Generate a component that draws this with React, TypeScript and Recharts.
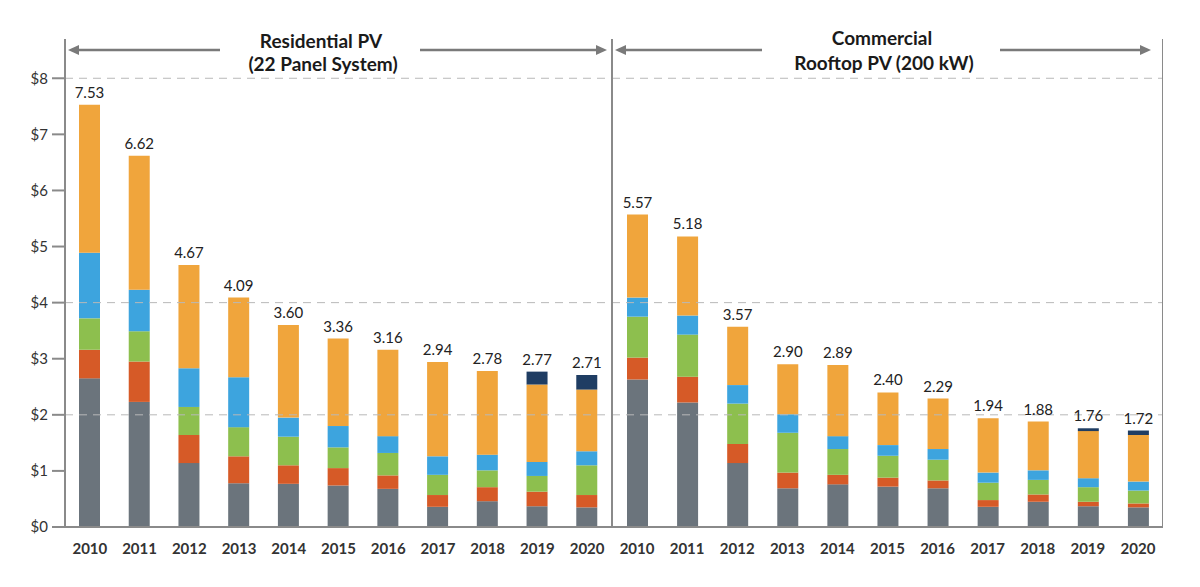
import { BarChart, Bar, XAxis, YAxis, ReferenceLine, LabelList } from 'recharts'

const years = ['2010', '2011', '2012', '2013', '2014', '2015', '2016', '2017', '2018', '2019', '2020']
const yTicks = [0, 1, 2, 3, 4, 5, 6, 7, 8]
const gridValues = [2, 4, 8]

// Residential PV (22 panel system), $/W
const resModule = [2.65, 2.23, 1.14, 0.78, 0.77, 0.74, 0.68, 0.36, 0.46, 0.37, 0.35]
const resInverter = [0.51, 0.72, 0.5, 0.48, 0.33, 0.31, 0.24, 0.21, 0.25, 0.26, 0.22]
const resHardware = [0.56, 0.54, 0.5, 0.52, 0.51, 0.37, 0.4, 0.36, 0.3, 0.28, 0.53]
const resLabor = [1.17, 0.74, 0.69, 0.89, 0.34, 0.38, 0.3, 0.33, 0.28, 0.25, 0.25]
const resSoft = [2.64, 2.39, 1.84, 1.42, 1.65, 1.56, 1.54, 1.68, 1.49, 1.38, 1.1]
const resOther = [0, 0, 0, 0, 0, 0, 0, 0, 0, 0.23, 0.26]
const resTotal = [7.53, 6.62, 4.67, 4.09, 3.6, 3.36, 3.16, 2.94, 2.78, 2.77, 2.71]

// Commercial rooftop PV (200 kW), $/W
const comModule = [2.63, 2.22, 1.14, 0.69, 0.76, 0.72, 0.69, 0.36, 0.45, 0.37, 0.35]
const comInverter = [0.39, 0.46, 0.34, 0.28, 0.17, 0.16, 0.14, 0.12, 0.13, 0.08, 0.07]
const comHardware = [0.73, 0.75, 0.72, 0.71, 0.46, 0.39, 0.37, 0.31, 0.26, 0.26, 0.23]
const comLabor = [0.34, 0.34, 0.33, 0.33, 0.23, 0.19, 0.19, 0.18, 0.17, 0.16, 0.16]
const comSoft = [1.48, 1.41, 1.04, 0.89, 1.27, 0.94, 0.9, 0.97, 0.87, 0.84, 0.83]
const comOther = [0, 0, 0, 0, 0, 0, 0, 0, 0, 0.05, 0.08]
const comTotal = [5.57, 5.18, 3.57, 2.9, 2.89, 2.4, 2.29, 1.94, 1.88, 1.76, 1.72]

const COLORS = {
  module: '#6b747c',
  inverter: '#d65a27',
  hardware: '#8dbf4e',
  labor: '#3da4de',
  soft: '#f0a53c',
  other: '#1f3d63',
}
const AXIS = '#8a8a8a'
const FONT = 'Lato, "Open Sans", sans-serif'

function buildRows(
  mod: number[], inv: number[], hw: number[], lab: number[], soft: number[], other: number[], total: number[],
) {
  return years.map((year, i) => ({
    year,
    module: mod[i],
    inverter: inv[i],
    hardware: hw[i],
    labor: lab[i],
    soft: soft[i],
    other: other[i],
    // the total sits on whichever segment is topmost
    softLabel: other[i] > 0 ? null : total[i],
    otherLabel: other[i] > 0 ? total[i] : null,
  }))
}

const resRows = buildRows(resModule, resInverter, resHardware, resLabor, resSoft, resOther, resTotal)
const comRows = buildRows(comModule, comInverter, comHardware, comLabor, comSoft, comOther, comTotal)

const segments = ['module', 'inverter', 'hardware', 'labor', 'soft', 'other'] as const

function Stacks() {
  return segments.map((key) => (
    <Bar key={key} dataKey={key} stackId="a" yAxisId="l" fill={COLORS[key]} barSize={21} isAnimationActive={false}>
      {(key === 'soft' || key === 'other') && (
        <LabelList
          dataKey={key === 'soft' ? 'softLabel' : 'otherLabel'}
          position="top"
          offset={7}
          formatter={(v: any) => (v == null ? '' : Number(v).toFixed(2))}
          style={{ fontFamily: FONT, fontSize: 15, fill: '#222' }}
        />
      )}
    </Bar>
  ))
}

function Grid() {
  return gridValues.map((g) => (
    <ReferenceLine key={g} y={g} yAxisId="l" stroke="#b8b8b8" strokeDasharray="8 6" strokeWidth={1} />
  ))
}

const xAxisProps = {
  dataKey: 'year',
  height: 30,
  axisLine: { stroke: AXIS, strokeWidth: 2 },
  tickLine: false,
  tickMargin: 10,
  interval: 0 as const,
  tick: { fontFamily: FONT, fontSize: 15, fontWeight: 700, fill: '#333' },
}

function Arrow({ x1, x2, y }: { x1: number; x2: number; y: number }) {
  const dir = x2 > x1 ? 1 : -1
  return (
    <g>
      <line x1={x1} y1={y} x2={x2 - dir * 9} y2={y} stroke="#7a7a7a" strokeWidth={2.5} />
      <polygon points={`${x2},${y} ${x2 - dir * 11},${y - 5} ${x2 - dir * 11},${y + 5}`} fill="#7a7a7a" />
    </g>
  )
}

export default function App() {
  return (
    <div style={{ position: 'absolute', left: 0, top: 0, width: 1200, height: 587, background: '#fff' }}>
      <div style={{ position: 'absolute', left: 0, top: 0 }}>
        <BarChart width={612} height={587} data={resRows} margin={{ top: 39, right: 0, bottom: 30, left: 0 }}>
          {Grid()}
          <XAxis {...xAxisProps} />
          <YAxis
            yAxisId="l"
            domain={[0, 8.7]}
            ticks={yTicks}
            width={65}
            tickSize={13}
            tickMargin={4}
            axisLine={{ stroke: AXIS, strokeWidth: 2 }}
            tickLine={{ stroke: AXIS, strokeWidth: 2 }}
            tickFormatter={(v: number) => `$${v}`}
            tick={{ fontFamily: FONT, fontSize: 15, fill: '#333' }}
          />
          {Stacks()}
        </BarChart>
      </div>
      <div style={{ position: 'absolute', left: 606, top: 0 }}>
        <BarChart width={557} height={587} data={comRows} margin={{ top: 39, right: 0, bottom: 30, left: 0 }}>
          {Grid()}
          <XAxis {...xAxisProps} />
          <YAxis
            yAxisId="l"
            domain={[0, 8.7]}
            ticks={yTicks}
            width={6}
            tick={false}
            tickLine={false}
            axisLine={{ stroke: AXIS, strokeWidth: 2 }}
          />
          <YAxis
            yAxisId="r"
            orientation="right"
            domain={[0, 8.7]}
            ticks={yTicks}
            width={10}
            mirror
            tickSize={4}
            tickFormatter={() => ''}
            tickLine={{ stroke: '#cfcfcf' }}
            axisLine={{ stroke: AXIS, strokeWidth: 2 }}
          />
          {Stacks()}
        </BarChart>
      </div>
      <svg width={1200} height={587} style={{ position: 'absolute', left: 0, top: 0, pointerEvents: 'none' }}>
        <Arrow x1={220} x2={68} y={50} />
        <Arrow x1={420} x2={607} y={50} />
        <Arrow x1={762} x2={615} y={50} />
        <Arrow x1={1000} x2={1151} y={50} />
        <g fontFamily={FONT} fontWeight={700} fontSize={19} fill="#1a1a1a" textAnchor="middle">
          <text x={321} y={48}>Residential PV</text>
          <text x={323} y={71}>(22 Panel System)</text>
          <text x={882} y={45}>Commercial</text>
          <text x={884} y={70}>Rooftop PV (200 kW)</text>
        </g>
      </svg>
    </div>
  )
}
